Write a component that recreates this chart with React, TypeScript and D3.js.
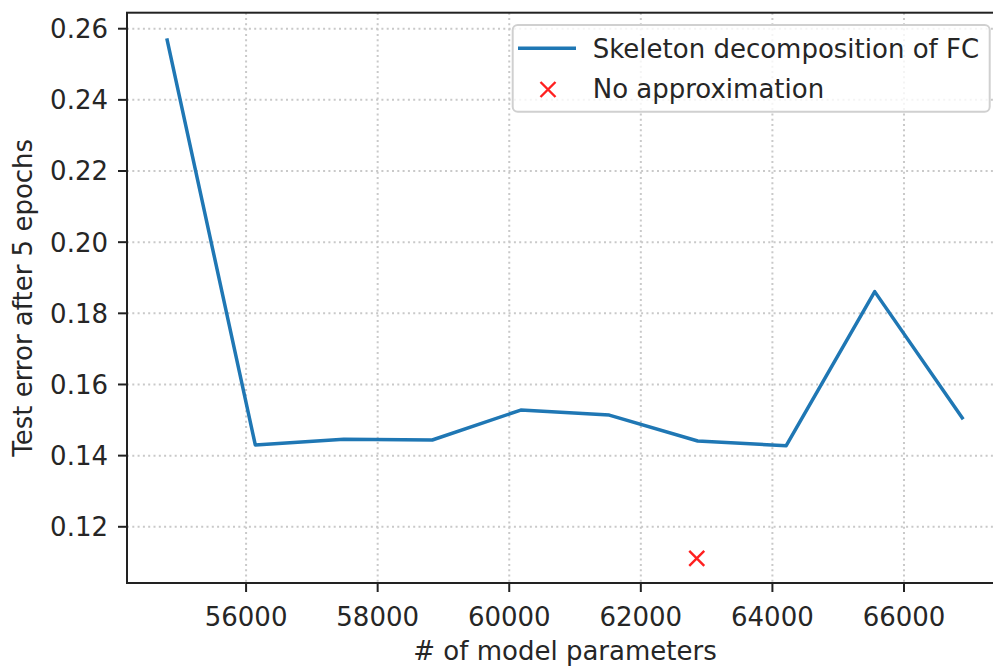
import React from "react";
import * as d3 from "d3";

// values
const params = [54795, 56140, 57485, 58830, 60175, 61520, 62865, 64210, 65555, 66900];
const testError = [0.2573, 0.143, 0.1446, 0.1444, 0.1528, 0.1514, 0.1441, 0.1428, 0.1861, 0.1502];
const baseParams = [62850];
const baseError = [0.1111];
const xTicks = [56000, 58000, 60000, 62000, 64000, 66000];
const yTicks = [0.12, 0.14, 0.16, 0.18, 0.2, 0.22, 0.24, 0.26];

const W = 993;
const H = 668;
const left = 127;
const right = 1003; // right spine falls just outside the cropped picture
const top = 12.7;
const bottom = 583;
const font = "DejaVu Sans";
const fs = 26;

const App = () => {
  const x = d3.scaleLinear().domain([54190, 67505]).range([left, right]);
  const y = d3.scaleLinear().domain([0.1042, 0.2645]).range([bottom, top]);

  const line = d3
    .line<number>()
    .x((d, i) => x(params[i]))
    .y((d) => y(d));

  const cross = (cx: number, cy: number, r: number) =>
    `M${cx - r},${cy - r}L${cx + r},${cy + r}M${cx - r},${cy + r}L${cx + r},${cy - r}`;

  return (
    <svg
      width={W}
      height={H}
      style={{ position: "absolute", left: 0, top: 0, overflow: "hidden", background: "white" }}
      fontFamily={font}
    >
      <rect width={W} height={H} fill="white" />
      {/* grid */}
      <g stroke="#c9c9c9" strokeWidth={2} strokeDasharray="2,3.3">
        {xTicks.map((t) => (
          <line key={"gx" + t} x1={x(t)} x2={x(t)} y1={top} y2={bottom} />
        ))}
        {yTicks.map((t) => (
          <line key={"gy" + t} x1={left} x2={right} y1={y(t)} y2={y(t)} />
        ))}
      </g>

      <path d={line(testError) || ""} fill="none" stroke="#1f77b4" strokeWidth={3.5} strokeLinejoin="round" />
      {baseParams.map((p, i) => (
        <path key={"b" + i} d={cross(x(p), y(baseError[i]), 7.5)} stroke="#ff2020" strokeWidth={2.4} />
      ))}

      {/* spines */}
      <rect x={left} y={top} width={right - left} height={bottom - top} fill="none" stroke="#222" strokeWidth={2} />

      {/* x axis */}
      {xTicks.map((t) => (
        <g key={"xt" + t}>
          <line x1={x(t)} x2={x(t)} y1={bottom} y2={bottom + 9} stroke="#222" strokeWidth={2} />
          <text x={x(t)} y={625.5} textAnchor="middle" fontSize={fs} fill="#262626">
            {t}
          </text>
        </g>
      ))}
      {/* y axis */}
      {yTicks.map((t) => (
        <g key={"yt" + t}>
          <line x1={left - 9} x2={left} y1={y(t)} y2={y(t)} stroke="#222" strokeWidth={2} />
          <text x={108} y={y(t)} dy="0.36em" textAnchor="end" fontSize={fs} fill="#262626">
            {d3.format(".2f")(t)}
          </text>
        </g>
      ))}

      <text x={(left + right) / 2} y={660} textAnchor="middle" fontSize={fs} fill="#262626">
        # of model parameters
      </text>
      <text
        transform={`translate(32,${(top + bottom) / 2}) rotate(-90)`}
        textAnchor="middle"
        fontSize={fs}
        fill="#262626"
      >
        Test error after 5 epochs
      </text>

      {/* legend */}
      <g>
        <rect x={512.7} y={25} width={477} height={86.7} rx={5} fill="white" fillOpacity={0.8} stroke="#d0d0d0" strokeWidth={2} />
        <line x1={518} x2={576} y1={48.3} y2={48.3} stroke="#1f77b4" strokeWidth={3.5} />
        <text x={592.7} y={57.5} fontSize={fs} fill="#262626">
          Skeleton decomposition of FC
        </text>
        <path d={cross(548, 89.5, 7.5)} stroke="#ff2020" strokeWidth={2.4} />
        <text x={592.7} y={97.5} fontSize={fs} fill="#262626">
          No approximation
        </text>
      </g>
    </svg>
  );
};

export default App;
